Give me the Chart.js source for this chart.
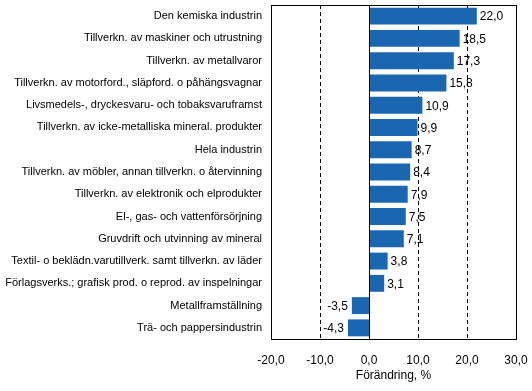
<!DOCTYPE html>
<html lang="sv">
<head>
    <meta charset="UTF-8">
    <title>Förändring, %</title>
    <script src="https://cdn.jsdelivr.net/npm/chart.js"></script>
    <style>
        body { margin: 0; background: #fff; }
        #wrap { width: 532px; height: 391px; }
    </style>
</head>
<body>
<div id="wrap"><canvas id="chart"></canvas></div>
<script>
    const categories = [
        "Den kemiska industrin",
        "Tillverkn. av maskiner och utrustning",
        "Tillverkn. av metallvaror",
        "Tillverkn. av motorford., släpford. o påhängsvagnar",
        "Livsmedels-, dryckesvaru- och tobaksvaruframst",
        "Tillverkn. av icke-metalliska mineral. produkter",
        "Hela industrin",
        "Tillverkn. av möbler, annan tillverkn. o återvinning",
        "Tillverkn. av elektronik och elprodukter",
        "El-, gas- och vattenförsörjning",
        "Gruvdrift och utvinning av mineral",
        "Textil- o beklädn.varutillverk. samt tillverkn. av läder",
        "Förlagsverks.; grafisk prod. o reprod. av inspelningar",
        "Metallframställning",
        "Trä- och pappersindustrin"
    ];
    const values = [22.0, 18.5, 17.3, 15.8, 10.9, 9.9, 8.7, 8.4, 7.9, 7.5, 7.1, 3.8, 3.1, -3.5, -4.3];
    const xTicks = [-20, -10, 0, 10, 20, 30];
    const dashedLines = [-10, 10, 20];

    const fmt = v => v.toFixed(1).replace(".", ",");
    const narrow = "'Liberation Sans Narrow', 'Arial Narrow', 'Liberation Sans', Arial, sans-serif";

    // grid lines, frame and value labels
    const decor = {
        id: "decor",
        beforeDatasetsDraw(chart) {
            const { ctx, chartArea: a, scales: { x } } = chart;
            ctx.save();
            ctx.strokeStyle = "#000";
            ctx.lineWidth = 1;
            ctx.setLineDash([4, 3]);
            dashedLines.forEach(v => {
                const px = Math.round(x.getPixelForValue(v)) + 0.5;
                ctx.beginPath();
                ctx.moveTo(px, a.top);
                ctx.lineTo(px, a.bottom);
                ctx.stroke();
            });
            ctx.restore();
        },
        afterDatasetsDraw(chart) {
            const { ctx, chartArea: a, scales: { x } } = chart;
            ctx.save();
            ctx.strokeStyle = "#000";
            ctx.lineWidth = 1;
            const z = Math.round(x.getPixelForValue(0)) + 0.5;
            ctx.beginPath();
            ctx.moveTo(z, a.top);
            ctx.lineTo(z, a.bottom);
            ctx.stroke();
            ctx.strokeRect(Math.round(a.left) + 0.5, Math.round(a.top) + 0.5,
                Math.round(a.right - a.left), Math.round(a.bottom - a.top));

            ctx.fillStyle = "#000";
            ctx.font = "12px " + narrow;
            ctx.textBaseline = "middle";
            chart.getDatasetMeta(0).data.forEach((bar, i) => {
                const v = values[i];
                if (v >= 0) {
                    ctx.textAlign = "left";
                    ctx.fillText(fmt(v), bar.x + 3, bar.y + 1);
                } else {
                    ctx.textAlign = "right";
                    ctx.fillText(fmt(v), bar.x - 4, bar.y + 1);
                }
            });
            ctx.restore();
        }
    };

    new Chart(document.getElementById("chart"), {
        type: "bar",
        data: {
            labels: categories,
            datasets: [{
                data: values,
                backgroundColor: "#1a67b0",
                barPercentage: 0.76,
                categoryPercentage: 1
            }]
        },
        options: {
            indexAxis: "y",
            responsive: true,
            maintainAspectRatio: false,
            animation: false,
            layout: { padding: { top: 5, right: 16, left: 0, bottom: 8 } },
            plugins: {
                legend: { display: false },
                tooltip: { enabled: false }
            },
            scales: {
                x: {
                    min: -20,
                    max: 30,
                    afterBuildTicks: s => { s.ticks = xTicks.map(v => ({ value: v })); },
                    grid: { display: false, drawTicks: false },
                    border: { display: false },
                    ticks: {
                        padding: 14,
                        color: "#000",
                        font: { family: narrow, size: 12 },
                        callback: v => fmt(v)
                    },
                    title: {
                        display: true,
                        text: "Förändring, %",
                        color: "#000",
                        font: { family: "'Liberation Sans', Arial, sans-serif", size: 12 },
                        padding: { top: 2, bottom: 0 }
                    },
                    afterFit: s => { s.height = 44; s.paddingLeft = 0; s.paddingRight = 0; }
                },
                y: {
                    grid: { display: false, drawTicks: false },
                    border: { display: false },
                    ticks: {
                        padding: 9,
                        color: "#000",
                        autoSkip: false,
                        font: { family: "'Liberation Sans', Arial, sans-serif", size: 11 }
                    },
                    afterFit: s => { s.width = 271; s.paddingTop = 0; s.paddingBottom = 0; }
                }
            }
        },
        plugins: [decor]
    });
</script>
</body>
</html>
